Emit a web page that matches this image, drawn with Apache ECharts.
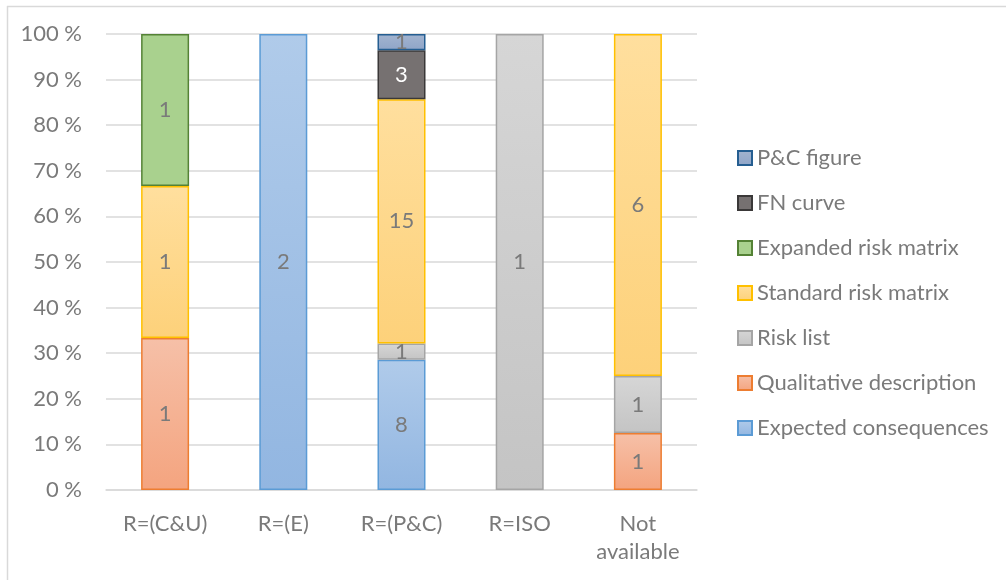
<!DOCTYPE html>
<html>
<head>
<meta charset="utf-8">
<script src="https://cdn.jsdelivr.net/npm/echarts@6/dist/echarts.min.js"></script>
<style>
 html, body { margin: 0; padding: 0; background: #fff; }
 #chart { width: 1006px; height: 580px; }
</style>
</head>
<body>
<div id="chart"></div>
<script>
// raw counts per category, chart shows them stacked as share of 100 %
const categories = ['R=(C&U)', 'R=(E)', 'R=(P&C)', 'R=ISO', 'Not\navailable']
const expectedConsequences = [0, 2, 8, 0, 0]
const qualitativeDescription = [1, 0, 0, 0, 1]
const riskList = [0, 0, 1, 1, 1]
const standardRiskMatrix = [1, 0, 15, 0, 6]
const expandedRiskMatrix = [1, 0, 0, 0, 0]
const fnCurve = [0, 0, 3, 0, 0]
const pcFigure = [0, 0, 1, 0, 0]
const yTicks = [0, 10, 20, 30, 40, 50, 60, 70, 80, 90, 100]

const font = 'Lato, "Open Sans", sans-serif'
const grey = '#7a7a7a'
const fs = 22

const seriesDefs = [
 { name: 'Expected consequences', data: expectedConsequences, top: '#b0cbea', bottom: '#92b6e1', border: '#5b9bd5' },
 { name: 'Qualitative description', data: qualitativeDescription, top: '#f6c0a8', bottom: '#f4a47f', border: '#ed7d31' },
 { name: 'Risk list', data: riskList, top: '#d6d6d6', bottom: '#c4c4c4', border: '#a5a5a5' },
 { name: 'Standard risk matrix', data: standardRiskMatrix, top: '#ffdf9e', bottom: '#fdd17a', border: '#ffc000' },
 { name: 'Expanded risk matrix', data: expandedRiskMatrix, top: '#a9d18e', bottom: '#a9d18e', border: '#548235' },
 { name: 'FN curve', data: fnCurve, top: '#767171', bottom: '#767171', border: '#3a3838', labelColor: '#ffffff' },
 { name: 'P&C figure', data: pcFigure, top: '#a3b4cf', bottom: '#8fa5c8', border: '#255e91' }
]

const totals = categories.map((c, i) => seriesDefs.reduce((s, d) => s + d.data[i], 0))

const setOption = () => {
 return {
  animation: false,
  textStyle: { fontFamily: font },
  graphic: [
   { type: 'line', shape: { x1: 7, y1: 6.5, x2: 1006, y2: 6.5 }, style: { stroke: '#d9d9d9', lineWidth: 1.5 } },
   { type: 'line', shape: { x1: 7.5, y1: 6, x2: 7.5, y2: 580 }, style: { stroke: '#d9d9d9', lineWidth: 1.5 } }
  ],
  grid: { left: 106, right: 309, top: 34, bottom: 90 },
  legend: {
   orient: 'vertical',
   left: 737,
   top: 147,
   padding: 0,
   icon: 'rect',
   itemWidth: 14,
   itemHeight: 14,
   itemGap: 23,
   textStyle: { color: grey, fontSize: fs, fontFamily: font, lineHeight: 22 },
   data: seriesDefs.map(d => d.name).reverse()
  },
  xAxis: {
   type: 'category',
   data: categories,
   axisTick: { show: false },
   axisLine: { lineStyle: { color: '#d9d9d9', width: 1.5 } },
   axisLabel: { color: grey, fontSize: fs, margin: 20, lineHeight: 28, fontFamily: font }
  },
  yAxis: {
   type: 'value',
   min: 0,
   max: 100,
   interval: 10,
   axisLabel: { color: grey, fontSize: fs, margin: 24, fontFamily: font, formatter: v => yTicks.includes(v) ? v + ' %' : '' },
   splitLine: { lineStyle: { color: '#d9d9d9', width: 1.5 } }
  },
  series: seriesDefs.map(d => ({
   name: d.name,
   type: 'bar',
   stack: 'total',
   barWidth: 48,
   data: d.data.map((v, i) => v ? { value: v / totals[i] * 100, count: v } : null),
   itemStyle: {
    color: new echarts.graphic.LinearGradient(0, 0, 0, 1, [
     { offset: 0, color: d.top },
     { offset: 1, color: d.bottom }
    ]),
    borderColor: d.border,
    borderWidth: 1.5
   },
   label: {
    show: true,
    position: 'inside',
    color: d.labelColor || grey,
    fontSize: fs,
    fontFamily: font,
    formatter: p => p.data ? String(p.data.count) : ''
   }
  }))
 }
}

const chart = echarts.init(document.getElementById('chart'))
chart.setOption(setOption(), true)
window.addEventListener('resize', () => chart.resize())
</script>
</body>
</html>
